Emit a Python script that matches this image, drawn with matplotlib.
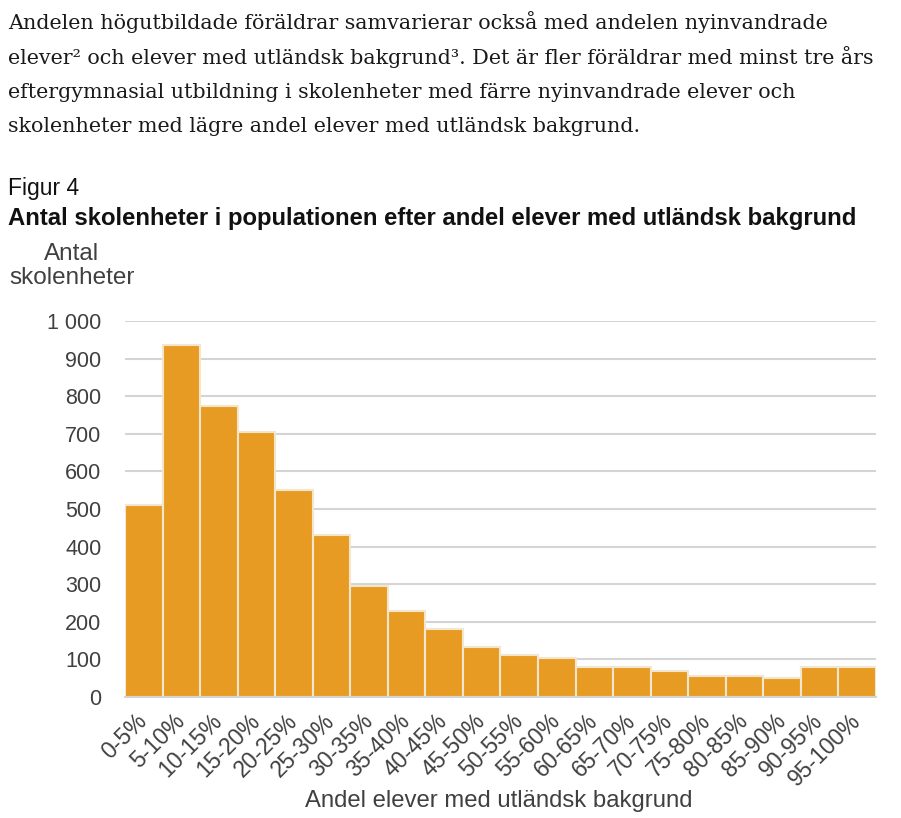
import matplotlib
matplotlib.use("Agg")
import matplotlib.pyplot as plt
import numpy as np

# data
categories = ['0-5%', '5-10%', '10-15%', '15-20%', '20-25%', '25-30%', '30-35%',
              '35-40%', '40-45%', '45-50%', '50-55%', '55-60%', '60-65%', '65-70%',
              '70-75%', '75-80%', '80-85%', '85-90%', '90-95%', '95-100%']
antal = [510, 935, 775, 705, 550, 430, 296, 230, 180, 134,
         112, 103, 80, 80, 68, 57, 57, 50, 80, 80]
yticks = [0, 100, 200, 300, 400, 500, 600, 700, 800, 900, 1000]
ytick_labels = ['0', '100', '200', '300', '400', '500', '600', '700', '800', '900', '1 000']

paragraph = [
    "Andelen högutbildade föräldrar samvarierar också med andelen nyinvandrade",
    "elever² och elever med utländsk bakgrund³. Det är fler föräldrar med minst tre års",
    "eftergymnasial utbildning i skolenheter med färre nyinvandrade elever och",
    "skolenheter med lägre andel elever med utländsk bakgrund.",
]

bar_color = '#E89B22'
grey = '#404040'

plt.rcParams['font.family'] = ['Liberation Sans', 'DejaVu Sans']

fig = plt.figure(figsize=(9.01, 8.18), dpi=100)
W, H = 901, 818

# body text above the figure
for i, line in enumerate(paragraph):
    fig.text(8 / W, 1 - (22 + i * 35) / H, line, family=['DejaVu Serif'],
             fontsize=14.9, color='#1a1a1a', va='center', ha='left')

fig.text(8 / W, 1 - 188 / H, "Figur 4", fontsize=16.5, color='#111111', va='center')
fig.text(8 / W, 1 - 218 / H, "Antal skolenheter i populationen efter andel elever med utländsk bakgrund",
         fontsize=17.2, fontweight='bold', color='#111111', va='center')
fig.text(72 / W, 1 - 266 / H, "Antal\nskolenheter", fontsize=17.5, color=grey,
         ha='center', va='center', linespacing=1.15)

ax = fig.add_axes([125 / W, 1 - 697 / H, (876 - 125) / W, (697 - 321) / H])
x = np.arange(len(categories))
ax.bar(x, antal, width=1.0, color=bar_color, edgecolor='#F3E6CF', linewidth=1.5, zorder=2)

ax.set_xlim(-0.5, len(categories) - 0.5)
ax.set_ylim(0, 1000)
ax.set_yticks(yticks)
ax.set_yticklabels(ytick_labels, fontsize=15.5, color=grey)
ax.set_xticks(x)
ax.set_xticklabels(categories, rotation=45, ha='right', va='center', rotation_mode='anchor',
                   fontsize=16.5, color=grey)
ax.tick_params(length=0, axis='y', pad=17)
ax.tick_params(length=0, axis='x', pad=15)
ax.grid(axis='y', color='#D4D4D4', linewidth=1.5, zorder=0)
ax.set_axisbelow(True)
for s in ['top', 'right', 'left']:
    ax.spines[s].set_visible(False)
ax.spines['bottom'].set_color('#D4D4D4')
ax.spines['bottom'].set_linewidth(1.5)

fig.text(499 / W, 1 - 801 / H, "Andel elever med utländsk bakgrund", fontsize=17.2,
         color=grey, ha='center', va='center')

fig.savefig("out.png", dpi=100, facecolor='white')
